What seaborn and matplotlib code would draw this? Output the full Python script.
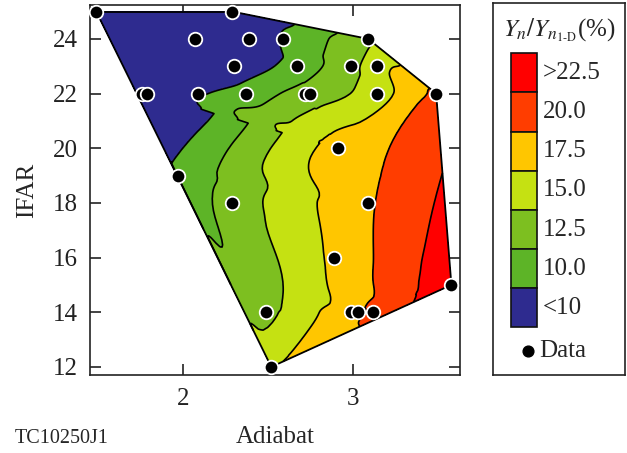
import numpy as np
import pandas as pd
import matplotlib
matplotlib.use("Agg")
import matplotlib.pyplot as plt
import matplotlib.tri as mtri
from matplotlib.patches import Rectangle
import seaborn as sns

# ---- data ----
adiabat = [1.49, 2.29, 2.07, 2.39, 2.59, 3.09, 2.30, 2.67, 2.99, 3.14,
           1.76, 1.79, 2.09, 2.37, 2.72, 2.75, 3.14, 3.49, 1.97, 2.91,
           2.29, 3.09, 2.89, 2.49, 2.99, 3.03, 3.12, 3.58, 2.52]
ifar = [25.0, 25.0, 24.0, 24.0, 24.0, 24.0, 23.0, 23.0, 23.0, 23.0,
        22.0, 22.0, 22.0, 22.0, 22.0, 22.0, 22.0, 22.0, 19.0, 20.0,
        18.0, 18.0, 16.0, 14.0, 14.0, 14.0, 14.0, 15.0, 12.0]
yield_ratio = [4.0, 7.0, 6.0, 8.0, 10.2, 14.5, 8.5, 11.0, 14.3, 16.5,
               6.0, 6.2, 9.6, 11.0, 13.5, 13.6, 16.3, 20.5, 10.6, 18.5,
               13.5, 19.7, 18.0, 14.4, 19.4, 19.7, 20.5, 24.2, 17.3]

levels = [-100, 10, 12.5, 15, 17.5, 20, 22.5, 100]
band_colors = ["#2e2b8f", "#5db427", "#7dbf20", "#c5e112",
               "#ffc600", "#ff3d00", "#ff0000"]
legend_labels = ["<10", "10.0", "12.5", "15.0", "17.5", "20.0", ">22.5"]

df = pd.DataFrame({"Adiabat": adiabat, "IFAR": ifar, "ratio": yield_ratio})

sns.set_theme(style="ticks")
plt.rcParams["font.family"] = ["Liberation Serif", "DejaVu Serif"]
plt.rcParams["mathtext.fontset"] = "stix"

FS = 18
fig = plt.figure(figsize=(6.27, 4.53), dpi=100)
ax = fig.add_axes([0.1435, 0.172, 0.590, 0.817])

tri = mtri.Triangulation(df["Adiabat"], df["IFAR"])
interp = mtri.CubicTriInterpolator(tri, df["ratio"], kind="geom")
refiner = mtri.UniformTriRefiner(tri)
tri_r, z_r = refiner.refine_field(df["ratio"].values, interp, subdiv=4)
ax.tricontourf(tri_r, z_r, levels=levels, colors=band_colors)
ax.tricontour(tri_r, z_r, levels=levels[1:-1], colors="black", linewidths=1.2)

# hull outline from triangulation boundary edges
nb = tri.neighbors
for t in range(len(tri.triangles)):
    for k in range(3):
        if nb[t, k] == -1:
            a = tri.triangles[t, k]
            b = tri.triangles[t, (k + 1) % 3]
            ax.plot([tri.x[a], tri.x[b]], [tri.y[a], tri.y[b]],
                    color="black", lw=1.3, zorder=3)

sns.scatterplot(data=df, x="Adiabat", y="IFAR", color="black",
                edgecolor="white", s=95, linewidth=1.3, ax=ax,
                zorder=5, clip_on=False, legend=False)

ax.set_xlim(1.453, 3.63)
ax.set_ylim(11.7, 25.24)
ax.set_xticks([2, 3])
ax.set_yticks([12, 14, 16, 18, 20, 22, 24])
ax.tick_params(direction="in", length=8, width=1.2, labelsize=FS,
               top=True, right=True, pad=9, colors="#222222")
for s in ax.spines.values():
    s.set_linewidth(1.2)
    s.set_color("#222222")
ax.set_xlabel("Adiabat", fontsize=FS, labelpad=12)
ax.set_ylabel("IFAR", fontsize=FS, labelpad=10)

fig.text(0.024, 0.012, "TC10250J1", fontsize=14.5, ha="left", va="bottom")

# ---- legend panel ----
lg = fig.add_axes([0.786, 0.172, 0.2105, 0.821])
lg.set_xlim(0, 132)
lg.set_ylim(372, 0)
lg.set_xticks([])
lg.set_yticks([])
for s in lg.spines.values():
    s.set_linewidth(1.2)
    s.set_color("#222222")
lg.text(67, 27, r"$Y_n/Y_{n_{\mathrm{1\text{-}D}}}$(%)", fontsize=FS,
        ha="center", va="center")
top = 50
h = 39.2
for i, (c, lab) in enumerate(zip(band_colors[::-1], legend_labels[::-1])):
    y0 = top + i * h
    lg.add_patch(Rectangle((18, y0), 26, h, facecolor=c,
                           edgecolor="#111111", lw=1.2))
    lg.text(50, y0 + h / 2, lab, fontsize=FS, ha="left", va="center")
lg.scatter([35], [348], s=60, color="black")
lg.text(46, 348, "Data", fontsize=FS, ha="left", va="center")

fig.savefig("out.png", dpi=100)
